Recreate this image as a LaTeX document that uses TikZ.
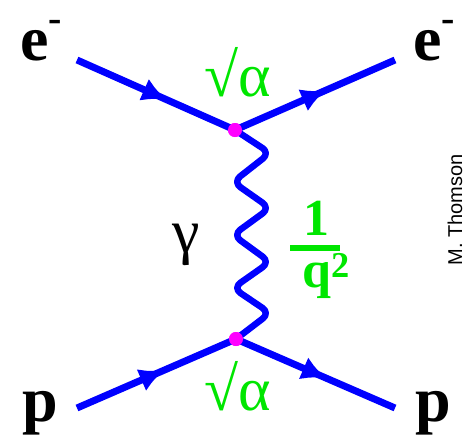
\documentclass[tikz,border=0pt]{standalone}
\usepackage{fontspec}
\setmainfont{Liberation Serif}
\newfontfamily\signfont{Liberation Sans}
\usetikzlibrary{arrows.meta,decorations.markings}

\definecolor{linkgreen}{RGB}{0,230,0}
\definecolor{vertexpink}{RGB}{255,0,255}

\tikzset{
  fermion/.style={draw=blue, line width=7pt, postaction={decorate},
    decoration={markings, mark=at position #1 with {\arrow[blue]{Latex[length=25pt,width=24pt]}}}},
  photon/.style={draw=blue, line width=6.5pt, rounded corners=9pt, line join=round},
  vertex/.style={circle, fill=vertexpink, inner sep=0pt, minimum size=14pt},
  particle/.style={anchor=base west, inner sep=0pt, font=\fontsize{64}{64}\selectfont\bfseries},
  coupling/.style={anchor=base west, inner sep=0pt, text=linkgreen, font=\fontsize{62}{62}\selectfont},
}

\begin{document}
\begin{tikzpicture}[x=1pt,y=-1pt,>=latex]
\useasboundingbox (0,0) rectangle (465,439);

\node[vertex] (vtop) at (235,130) {};
\node[vertex] (vbot) at (236,339) {};

\coordinate (ein) at (77,60);
\coordinate (eout) at (395,60);
\coordinate (pin) at (77,408);
\coordinate (pout) at (395,408);

\draw[fermion=0.57] (ein) -- (vtop.center);
\draw[fermion=0.57] (vtop.center) -- (eout);
\draw[fermion=0.55] (pin) -- (vbot.center);
\draw[fermion=0.57] (vbot.center) -- (pout);

% photon
\draw[photon] (vtop.center) -- ++(35,23) -- ++(-37,29) -- ++(37,26) -- ++(-37,27)
  -- ++(37,27) -- ++(-37,26) -- ++(37,25) -- (vbot.center);

\node[vertex] at (vtop) {};
\node[vertex] at (vbot) {};

\node[particle] (elabin) at (20,60) {e\raisebox{0.45em}{\fontsize{40}{40}\selectfont -}};
\node[particle] (elabout) at (413,60) {e\raisebox{0.45em}{\fontsize{40}{40}\selectfont -}};
\node[particle] (plabin) at (22,421) {p};
\node[particle] (plabout) at (415,421) {p};

\node[coupling] (gtop) at (204,96) {√α};
\node[coupling] (gbot) at (204,410) {√α};

\node[anchor=base west, inner sep=0pt, font=\fontsize{62}{62}\selectfont] (gamma) at (172,252) {γ};

\node[particle, text=linkgreen, font=\fontsize{52}{52}\selectfont\bfseries] (one) at (303,235) {1};
\node[fill=linkgreen, inner sep=0pt, minimum width=50pt, minimum height=6pt] (bar) at (315,248) {};
\node[particle, text=linkgreen, font=\fontsize{52}{52}\selectfont\bfseries] (qsq) at (302,287) {q\textsuperscript{2}};

\node[rotate=90, inner sep=0pt, font=\signfont\fontsize{20}{20}\selectfont] (sign) at (455,210) {M. Thomson};
\end{tikzpicture}
\end{document}
